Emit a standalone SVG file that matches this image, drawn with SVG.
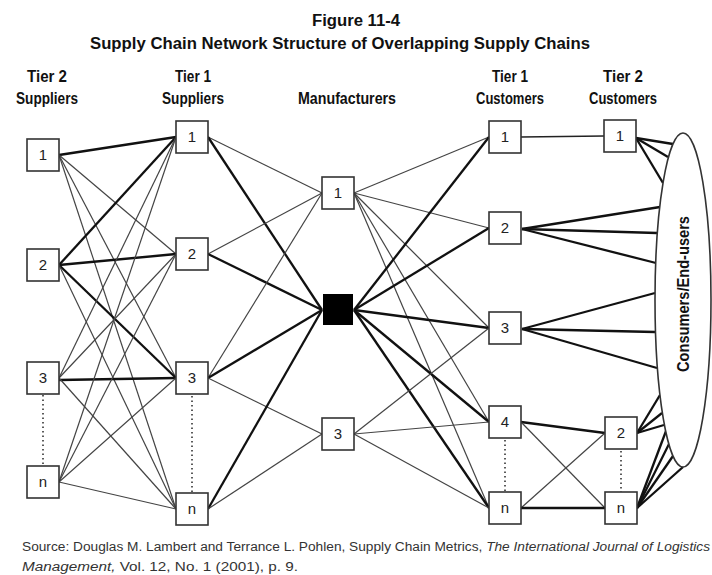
<svg xmlns="http://www.w3.org/2000/svg" width="712" height="575" viewBox="0 0 712 575">
  <style>
    .title { font-family: "Liberation Sans", Arial, sans-serif; font-weight: bold; fill: #111; text-anchor: middle; }
    .hdr { font-family: "Liberation Sans", Arial, sans-serif; font-weight: bold; font-size: 17px; fill: #111; text-anchor: middle; }
    .box { fill: #fff; stroke: #333; stroke-width: 1.6; }
    .num { font-family: "Liberation Sans", Arial, sans-serif; font-size: 15px; fill: #222; text-anchor: middle; }
    .thin { stroke: #444; stroke-width: 1.2; fill: none; }
    .mid { stroke: #222; stroke-width: 1.7; fill: none; }
    .thick { stroke: #111; stroke-width: 2.3; fill: none; }
    .dots { stroke: #333; stroke-width: 1.6; stroke-dasharray: 1.5 3; fill: none; }
    .src { font-family: "Liberation Sans", Arial, sans-serif; font-size: 12.5px; fill: #333; }
  </style>

  <!-- Heading -->
  <g id="heading">
    <text class="title" x="356" y="26" font-size="16" textLength="88" lengthAdjust="spacingAndGlyphs">Figure 11-4</text>
    <text class="title" x="340" y="49" font-size="16" textLength="500" lengthAdjust="spacingAndGlyphs">Supply Chain Network Structure of Overlapping Supply Chains</text>
  </g>

  <!-- Column headers -->
  <g id="column-headers">
    <text class="hdr" x="47" y="82" textLength="40" lengthAdjust="spacingAndGlyphs">Tier 2</text>
    <text class="hdr" x="47" y="104" textLength="62" lengthAdjust="spacingAndGlyphs">Suppliers</text>
    <text class="hdr" x="193" y="82" textLength="36" lengthAdjust="spacingAndGlyphs">Tier 1</text>
    <text class="hdr" x="193" y="104" textLength="62" lengthAdjust="spacingAndGlyphs">Suppliers</text>
    <text class="hdr" x="347" y="104" textLength="98" lengthAdjust="spacingAndGlyphs">Manufacturers</text>
    <text class="hdr" x="510" y="82" textLength="36" lengthAdjust="spacingAndGlyphs">Tier 1</text>
    <text class="hdr" x="510" y="104" textLength="68" lengthAdjust="spacingAndGlyphs">Customers</text>
    <text class="hdr" x="623" y="82" textLength="40" lengthAdjust="spacingAndGlyphs">Tier 2</text>
    <text class="hdr" x="623" y="104" textLength="68" lengthAdjust="spacingAndGlyphs">Customers</text>
  </g>

  <!-- Connectors -->
  <g id="connectors">
    <!-- tier 2 suppliers to tier 1 suppliers -->
    <line class="thick" x1="59" y1="155" x2="176" y2="137"/>
    <line class="thin" x1="59" y1="155" x2="176" y2="254"/>
    <line class="thin" x1="59" y1="155" x2="176" y2="378"/>
    <line class="thin" x1="59" y1="155" x2="176" y2="509"/>
    <line class="thick" x1="59" y1="265" x2="176" y2="137"/>
    <line class="thick" x1="59" y1="265" x2="176" y2="254"/>
    <line class="thick" x1="59" y1="265" x2="176" y2="378"/>
    <line class="thin" x1="59" y1="265" x2="176" y2="509"/>
    <line class="thin" x1="59" y1="378" x2="176" y2="137"/>
    <line class="thin" x1="59" y1="378" x2="176" y2="254"/>
    <line class="thick" x1="59" y1="380" x2="176" y2="378"/>
    <line class="thin" x1="59" y1="378" x2="176" y2="509"/>
    <line class="thin" x1="59" y1="482" x2="176" y2="137"/>
    <line class="thin" x1="59" y1="482" x2="176" y2="254"/>
    <line class="thin" x1="59" y1="482" x2="176" y2="378"/>
    <line class="thin" x1="59" y1="482" x2="176" y2="509"/>

    <!-- tier 1 suppliers to manufacturers -->
    <line class="thin" x1="208" y1="137" x2="322" y2="193"/>
    <line class="thick" x1="208" y1="137" x2="322" y2="310"/>
    <line class="thin" x1="208" y1="254" x2="322" y2="193"/>
    <line class="thick" x1="208" y1="254" x2="322" y2="310"/>
    <line class="thin" x1="208" y1="378" x2="322" y2="193"/>
    <line class="thick" x1="208" y1="378" x2="322" y2="310"/>
    <line class="thin" x1="208" y1="378" x2="322" y2="434"/>
    <line class="thick" x1="208" y1="509" x2="322" y2="310"/>
    <line class="thin" x1="208" y1="509" x2="322" y2="434"/>

    <!-- manufacturers to tier 1 customers -->
    <line class="thin" x1="354" y1="193" x2="489" y2="137"/>
    <line class="thin" x1="354" y1="193" x2="489" y2="228"/>
    <line class="thin" x1="354" y1="193" x2="489" y2="328"/>
    <line class="thin" x1="354" y1="193" x2="489" y2="422"/>
    <line class="thin" x1="354" y1="193" x2="489" y2="508"/>
    <line class="thick" x1="354" y1="310" x2="489" y2="137"/>
    <line class="thick" x1="354" y1="310" x2="489" y2="228"/>
    <line class="thick" x1="354" y1="310" x2="489" y2="328"/>
    <line class="thick" x1="354" y1="310" x2="489" y2="422"/>
    <line class="thick" x1="354" y1="310" x2="489" y2="508"/>
    <line class="thin" x1="354" y1="434" x2="489" y2="328"/>
    <line class="thin" x1="354" y1="434" x2="489" y2="422"/>
    <line class="thin" x1="354" y1="434" x2="489" y2="508"/>

    <!-- tier 1 customers to tier 2 customers -->
    <line class="mid" x1="521" y1="137" x2="604" y2="136"/>
    <line class="thick" x1="521" y1="422" x2="605" y2="433"/>
    <line class="thin" x1="521" y1="422" x2="605" y2="508"/>
    <line class="thin" x1="521" y1="508" x2="605" y2="433"/>
    <line class="thick" x1="521" y1="508" x2="605" y2="508"/>

    <!-- tier 1 customers straight to consumers -->
    <line class="thick" x1="522" y1="229" x2="660" y2="207"/>
    <line class="thick" x1="522" y1="229" x2="657" y2="233"/>
    <line class="thick" x1="522" y1="229" x2="656" y2="263"/>
    <line class="thick" x1="522" y1="329" x2="655" y2="293"/>
    <line class="thick" x1="522" y1="329" x2="655" y2="332"/>
    <line class="thick" x1="522" y1="329" x2="657" y2="368"/>

    <!-- tier 2 customers to consumers -->
    <line class="thick" x1="636" y1="138" x2="673" y2="144"/>
    <line class="thick" x1="636" y1="138" x2="668" y2="157"/>
    <line class="thick" x1="636" y1="138" x2="663" y2="183"/>
    <line class="thick" x1="637" y1="433" x2="660" y2="395"/>
    <line class="thick" x1="637" y1="433" x2="662" y2="413"/>
    <line class="thick" x1="637" y1="433" x2="664" y2="425"/>
    <line class="thick" x1="637" y1="508" x2="666" y2="431"/>
    <line class="thick" x1="637" y1="508" x2="669" y2="444"/>
    <line class="thick" x1="637" y1="508" x2="673" y2="456"/>
    <line class="thick" x1="637" y1="508" x2="683" y2="467"/>

    <!-- dotted continuation marks -->
    <line class="dots" x1="43" y1="395" x2="43" y2="466"/>
    <line class="dots" x1="192" y1="396" x2="192" y2="493"/>
    <line class="dots" x1="505" y1="440" x2="505" y2="492"/>
    <line class="dots" x1="621" y1="451" x2="621" y2="492"/>
  </g>

  <!-- Tier 2 suppliers -->
  <g id="tier2-supplier-1"><rect class="box" x="27" y="139" width="32" height="32"/><text class="num" x="43" y="160">1</text></g>
  <g id="tier2-supplier-2"><rect class="box" x="27" y="249" width="32" height="32"/><text class="num" x="43" y="270">2</text></g>
  <g id="tier2-supplier-3"><rect class="box" x="27" y="362" width="32" height="32"/><text class="num" x="43" y="383">3</text></g>
  <g id="tier2-supplier-n"><rect class="box" x="27" y="466" width="32" height="32"/><text class="num" x="43" y="487">n</text></g>

  <!-- Tier 1 suppliers -->
  <g id="tier1-supplier-1"><rect class="box" x="176" y="121" width="32" height="32"/><text class="num" x="192" y="142">1</text></g>
  <g id="tier1-supplier-2"><rect class="box" x="176" y="238" width="32" height="32"/><text class="num" x="192" y="259">2</text></g>
  <g id="tier1-supplier-3"><rect class="box" x="176" y="362" width="32" height="32"/><text class="num" x="192" y="383">3</text></g>
  <g id="tier1-supplier-n"><rect class="box" x="176" y="493" width="32" height="32"/><text class="num" x="192" y="514">n</text></g>

  <!-- Manufacturers -->
  <g id="manufacturer-1"><rect class="box" x="322" y="177" width="32" height="32"/><text class="num" x="338" y="198">1</text></g>
  <g id="manufacturer-focal"><rect x="323" y="294" width="30" height="31" fill="#000"/></g>
  <g id="manufacturer-3"><rect class="box" x="322" y="418" width="32" height="32"/><text class="num" x="338" y="439">3</text></g>

  <!-- Tier 1 customers -->
  <g id="tier1-customer-1"><rect class="box" x="489" y="121" width="32" height="32"/><text class="num" x="505" y="142">1</text></g>
  <g id="tier1-customer-2"><rect class="box" x="489" y="212" width="32" height="32"/><text class="num" x="505" y="233">2</text></g>
  <g id="tier1-customer-3"><rect class="box" x="489" y="312" width="32" height="32"/><text class="num" x="505" y="333">3</text></g>
  <g id="tier1-customer-4"><rect class="box" x="489" y="406" width="32" height="32"/><text class="num" x="505" y="427">4</text></g>
  <g id="tier1-customer-n"><rect class="box" x="489" y="492" width="32" height="32"/><text class="num" x="505" y="513">n</text></g>

  <!-- Tier 2 customers -->
  <g id="tier2-customer-1"><rect class="box" x="604" y="120" width="32" height="32"/><text class="num" x="620" y="141">1</text></g>
  <g id="tier2-customer-2"><rect class="box" x="605" y="417" width="32" height="32"/><text class="num" x="621" y="438">2</text></g>
  <g id="tier2-customer-n"><rect class="box" x="605" y="492" width="32" height="32"/><text class="num" x="621" y="513">n</text></g>

  <!-- Consumers / end-users -->
  <g id="consumers">
    <ellipse cx="683" cy="300" rx="28" ry="167" fill="#fff" stroke="#333" stroke-width="1.6"/>
    <text class="hdr" transform="translate(689 294) rotate(-90)" font-size="16" textLength="156" lengthAdjust="spacingAndGlyphs">Consumers/End-users</text>
  </g>

  <!-- Source note -->
  <g id="source">
    <text class="src" x="22" y="551" textLength="688" lengthAdjust="spacingAndGlyphs">Source: Douglas M. Lambert and Terrance L. Pohlen, Supply Chain Metrics, <tspan font-style="italic">The International Journal of Logistics</tspan></text>
    <text class="src" x="22" y="571" textLength="276" lengthAdjust="spacingAndGlyphs"><tspan font-style="italic">Management,</tspan> Vol. 12, No. 1 (2001), p. 9.</text>
  </g>
</svg>
